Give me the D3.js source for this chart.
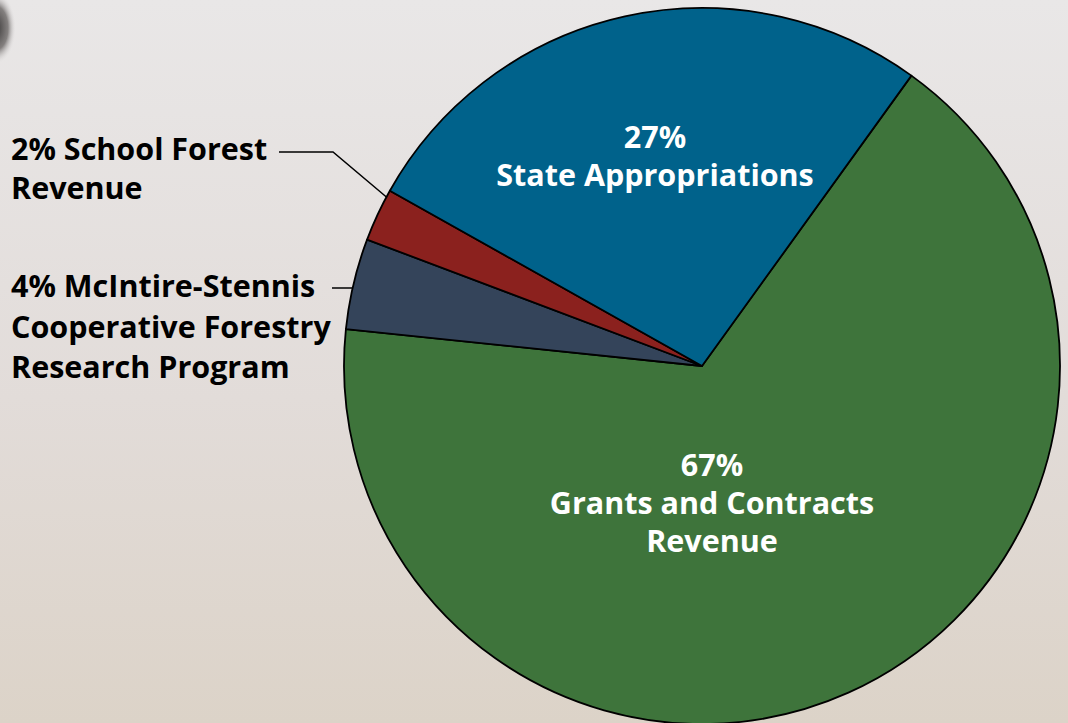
<!DOCTYPE html>
<html>
<head>
<meta charset="utf-8">
<script src="https://cdn.jsdelivr.net/npm/d3@7"></script>
<style>
  html, body { margin: 0; padding: 0; }
  body { width: 1068px; height: 723px; overflow: hidden; }
  text { font-family: "Open Sans", "Noto Sans", sans-serif; font-weight: 700; }
</style>
</head>
<body>
<div id="chart"></div>
<script>
// revenue shares, in the order they run clockwise from the green slice
var categories = ["Grants and Contracts Revenue", "McIntire-Stennis Cooperative Forestry Research Program", "School Forest Revenue", "State Appropriations"];
var shares = [66.7, 4.1, 2.4, 26.8];
var colors = ["#3e743b", "#34445a", "#8b211e", "#00628b"];

// label lines as printed
var insideLabels = [
    {i: 0, lines: ["67%", "Grants and Contracts", "Revenue"]},
    {i: 3, lines: ["27%", "State Appropriations"]}
];
var outsideLabels = [
    {i: 2, lines: ["2% School Forest", "Revenue"]},
    {i: 1, lines: ["4% McIntire-Stennis", "Cooperative Forestry", "Research Program"]}
];

var width = 1068, height = 723;
var cx = 702, cy = 366, radius = 358;

var svg = d3.select("#chart")
    .append("svg")
    .attr("width", width)
    .attr("height", height);

// background
var defs = svg.append("defs");
var grad = defs.append("linearGradient")
    .attr("id", "bg")
    .attr("x1", 0).attr("y1", 0).attr("x2", 0).attr("y2", 1);
grad.append("stop").attr("offset", "0%").attr("stop-color", "#e9e7e7");
grad.append("stop").attr("offset", "55%").attr("stop-color", "#e2dcd9");
grad.append("stop").attr("offset", "100%").attr("stop-color", "#dcd3c8");
svg.append("rect")
    .attr("width", width)
    .attr("height", height)
    .attr("fill", "url(#bg)");

var blob = defs.append("radialGradient").attr("id", "blob");
blob.append("stop").attr("offset", "0%").attr("stop-color", "#3a3838");
blob.append("stop").attr("offset", "60%").attr("stop-color", "#6a6665").attr("stop-opacity", 0.8);
blob.append("stop").attr("offset", "100%").attr("stop-color", "#e9e7e7").attr("stop-opacity", 0);
svg.append("ellipse")
    .attr("cx", -4).attr("cy", 28)
    .attr("rx", 20).attr("ry", 36)
    .attr("fill", "url(#blob)");

var start = 35.8 * Math.PI / 180;
var pie = d3.pie()
    .sort(null)
    .startAngle(start)
    .endAngle(start + 2 * Math.PI);

var arcs = pie(shares);
var arc = d3.arc().innerRadius(0).outerRadius(radius);

var g = svg.append("g")
    .attr("transform", "translate(" + cx + "," + cy + ")");

g.selectAll("path")
    .data(arcs)
    .enter()
    .append("path")
    .attr("d", arc)
    .attr("fill", function(d, i) { return colors[i]; })
    .attr("stroke", "#000")
    .attr("stroke-width", 1.8)
    .attr("stroke-linejoin", "round");

// white labels inside the big slices
var inPos = {0: [10, 110], 3: [-47, -218]};
var lineH = 38;
insideLabels.forEach(function(l) {
    var t = g.append("text")
        .attr("text-anchor", "middle")
        .attr("fill", "#fff")
        .style("font-size", "30.5px");
    l.lines.forEach(function(s, k) {
        t.append("tspan")
            .attr("x", inPos[l.i][0])
            .attr("y", inPos[l.i][1] + k * lineH)
            .text(s);
    });
});

// black labels on the left with leader lines
var outPos = {2: [11, 160, 39], 1: [11, 297, 40.5]};
outsideLabels.forEach(function(l) {
    var p = outPos[l.i];
    var t = svg.append("text")
        .attr("fill", "#000")
        .style("font-size", "30.5px");
    l.lines.forEach(function(s, k) {
        t.append("tspan")
            .attr("x", p[0])
            .attr("y", p[1] + k * p[2])
            .text(s);
    });
});

// leader lines end on the rim of the pie
function rimX(y) { return cx - Math.sqrt(radius * radius - (y - cy) * (y - cy)); }
svg.append("polyline")
    .attr("points", [[279, 152], [333, 152], [rimX(197), 197]].join(" "))
    .attr("fill", "none")
    .attr("stroke", "#000")
    .attr("stroke-width", 1.5);
svg.append("line")
    .attr("x1", 332).attr("y1", 288)
    .attr("x2", rimX(288)).attr("y2", 288)
    .attr("stroke", "#000")
    .attr("stroke-width", 1.5);
</script>
</body>
</html>
